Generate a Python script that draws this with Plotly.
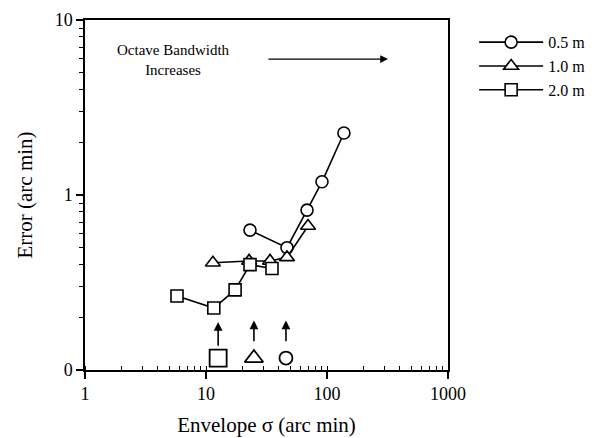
import math
import plotly.graph_objects as go

# ---- data ----
x_05 = [23.1, 46.7, 68.4, 90.9, 138]
y_05 = [0.63, 0.50, 0.82, 1.19, 2.26]

x_10 = [11.4, 22.7, 33.8, 46.7, 69.7]
y_10 = [0.41, 0.42, 0.42, 0.44, 0.665]

x_20 = [5.76, 11.6, 17.4, 23.1, 35.1]
y_20 = [0.265, 0.226, 0.287, 0.40, 0.38]

series_names = ["0.5 m", "1.0 m", "2.0 m"]
series_symbols = ["circle", "triangle-up", "square"]
series_sizes = [12, 13, 12]

# markers at bottom with arrows (one per distance)
cut_x = [12.6, 24.9, 45.8]
cut_y = [0.117, 0.117, 0.117]
cut_symbols = ["square", "triangle-up", "circle"]
cut_sizes = [17, 16, 13]
arrow_tail_y = [0.135, 0.143, 0.143]
arrow_head_y = [0.188, 0.192, 0.192]

# "Octave Bandwidth Increases" arrow
band_arrow_x = [31.9, 319]
band_arrow_y = 5.98
band_text = "Octave Bandwidth<br>Increases"
band_text_x = 5.34
band_text_y = 5.9

y_tickvals = [0.1, 1, 10]
y_ticktext = ["0", "1", "10"]
x_tickvals = [1, 10, 100, 1000]
x_ticktext = ["1", "10", "100", "1000"]

FONT = "Liberation Serif"
L = math.log10

fig = go.Figure()
for xs, ys, name, sym, sz in zip([x_05, x_10, x_20], [y_05, y_10, y_20],
                                 series_names, series_symbols, series_sizes):
    fig.add_trace(go.Scatter(
        x=xs, y=ys, name=name, mode="lines+markers",
        line=dict(color="black", width=1.6),
        marker=dict(symbol=sym, size=sz, color="white",
                    line=dict(color="black", width=1.6)),
    ))

for xv, yv, sym, sz in zip(cut_x, cut_y, cut_symbols, cut_sizes):
    fig.add_trace(go.Scatter(
        x=[xv], y=[yv], mode="markers", showlegend=False,
        marker=dict(symbol=sym, size=sz, color="white",
                    line=dict(color="black", width=1.8)),
    ))

annotations = []
for xv, yt, yh in zip(cut_x, arrow_tail_y, arrow_head_y):
    annotations.append(dict(
        x=L(xv), y=L(yh), ax=L(xv), ay=L(yt), xref="x", yref="y", axref="x", ayref="y",
        showarrow=True, arrowhead=2, arrowsize=1.1, arrowwidth=1.6,
        arrowcolor="black", text="",
    ))
annotations.append(dict(
    x=L(band_arrow_x[1]), y=L(band_arrow_y), ax=L(band_arrow_x[0]), ay=L(band_arrow_y),
    xref="x", yref="y", axref="x", ayref="y",
    showarrow=True, arrowhead=2, arrowsize=1.1, arrowwidth=1.4,
    arrowcolor="black", text="",
))
annotations.append(dict(
    x=L(band_text_x), y=L(band_text_y), xref="x", yref="y", text=band_text,
    showarrow=False, font=dict(family=FONT, size=15, color="black"),
    align="center",
))

fig.update_layout(
    width=602, height=438,
    margin=dict(l=85, r=154, t=20, b=68),
    paper_bgcolor="white", plot_bgcolor="white",
    font=dict(family=FONT, color="black"),
    annotations=annotations,
    legend=dict(
        x=1.072, y=0.985, xanchor="left", yanchor="top",
        font=dict(family=FONT, size=16, color="black"),
        itemwidth=64, tracegroupgap=0,
        bgcolor="rgba(0,0,0,0)",
    ),
    xaxis=dict(
        type="log", range=[0, 3], automargin=False,
        tickvals=x_tickvals, ticktext=x_ticktext,
        ticks="outside", ticklen=7, tickwidth=1.5, tickcolor="black",
        minor=dict(ticks="inside", ticklen=4, dtick="D1", tickcolor="black", tickwidth=1),
        showline=True, linecolor="black", linewidth=1.5, mirror=True,
        showgrid=False, zeroline=False,
        tickfont=dict(family=FONT, size=18),
        title=dict(text="Envelope σ (arc min)", font=dict(family=FONT, size=21), standoff=14),
    ),
    yaxis=dict(
        type="log", range=[-1, 1], automargin=False,
        tickvals=y_tickvals, ticktext=y_ticktext,
        ticks="outside", ticklen=7, tickwidth=1.5, tickcolor="black",
        minor=dict(ticks="outside", ticklen=4, dtick="D1", tickcolor="black", tickwidth=1),
        showline=True, linecolor="black", linewidth=1.5, mirror=True,
        showgrid=False, zeroline=False,
        tickfont=dict(family=FONT, size=18),
        title=dict(text="Error (arc min)", font=dict(family=FONT, size=21), standoff=16),
    ),
)

fig.write_html("out.html")
